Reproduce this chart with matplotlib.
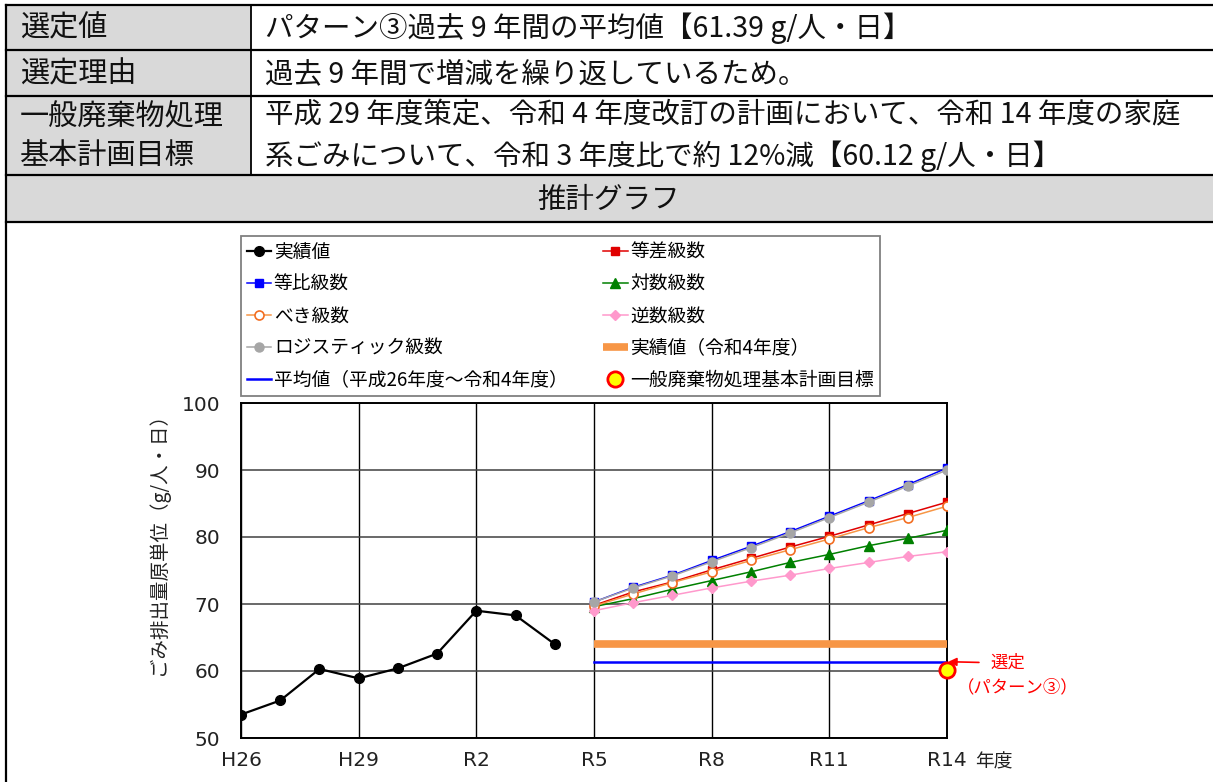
#!/usr/bin/env python3
"""Household waste per-capita estimate sheet: table header and projection chart."""

import matplotlib
matplotlib.use("Agg")
import matplotlib.pyplot as plt
from matplotlib.patches import Rectangle

plt.rcParams["font.family"] = ["Noto Sans CJK JP", "DejaVu Sans"]

# ---- data -------------------------------------------------------------
year_labels = ["H26", "H29", "R2", "R5", "R8", "R11", "R14"]
x_actual = list(range(0, 9))          # H26 .. R4
x_proj = list(range(9, 19))           # R5 .. R14

actual = [53.5, 55.6, 60.3, 58.9, 60.4, 62.6, 69.0, 68.3, 64.0]
arith = [69.8, 71.8, 73.3, 75.1, 76.8, 78.5, 80.1, 81.8, 83.5, 85.2]
geom = [70.3, 72.5, 74.3, 76.5, 78.6, 80.8, 83.1, 85.4, 87.8, 90.3]
logar = [69.6, 70.8, 72.2, 73.5, 74.8, 76.2, 77.4, 78.7, 79.8, 81.0]
power = [69.7, 71.5, 73.2, 74.8, 76.5, 78.1, 79.7, 81.4, 82.9, 84.6]
recip = [69.0, 70.2, 71.3, 72.4, 73.4, 74.3, 75.3, 76.2, 77.1, 77.8]
logistic = [70.3, 72.4, 74.2, 76.3, 78.4, 80.6, 82.9, 85.2, 87.6, 90.0]
latest_value = 64.0     # R4 actual
average_value = 61.39   # H26-R4 average
target_value = 60.12    # plan target at R14

table_rows = [
    ("選定値", "パターン③過去 9 年間の平均値【61.39 g/人・日】"),
    ("選定理由", "過去 9 年間で増減を繰り返しているため。"),
    ("一般廃棄物処理\n基本計画目標",
     "平成 29 年度策定、令和 4 年度改訂の計画において、令和 14 年度の家庭\n"
     "系ごみについて、令和 3 年度比で約 12%減【60.12 g/人・日】"),
]

W, H = 1213, 782
fig = plt.figure(figsize=(W / 100, H / 100), dpi=100)

# ---- table frame (pixel coordinates on an overlay axes) ---------------
bg = fig.add_axes([0, 0, 1, 1], zorder=0)
bg.set_xlim(0, W)
bg.set_ylim(H, 0)
bg.axis("off")

row_edges = [4.5, 50, 96, 175, 222]
col_split = 251
left_edge = 6
GRAY = "#d9d9d9"
for i, (label, value) in enumerate(table_rows):
    y0, y1 = row_edges[i], row_edges[i + 1]
    bg.add_patch(Rectangle((left_edge, y0), col_split - left_edge, y1 - y0,
                           facecolor=GRAY, edgecolor="none"))
    yc = (y0 + y1) / 2
    bg.text(20, yc + 1, label, fontsize=21, va="center", ha="left",
            linespacing=1.38, color="#111111")
    bg.text(265, yc + 1, value, fontsize=20.5, va="center", ha="left",
            linespacing=1.4, color="#111111")
    bg.plot([col_split, col_split], [y0, y1], color="black", lw=1.3)

bg.add_patch(Rectangle((left_edge, row_edges[3]), W - left_edge, row_edges[4] - row_edges[3],
                       facecolor=GRAY, edgecolor="none"))
bg.text(608, (row_edges[3] + row_edges[4]) / 2 + 1, "推計グラフ",
        fontsize=20.5, ha="center", va="center", color="#111111")
for y in row_edges:
    bg.plot([left_edge, W], [y, y], color="black", lw=1.6)
bg.plot([left_edge, left_edge], [row_edges[0], H], color="black", lw=1.6)

# ---- chart ------------------------------------------------------------
px_l, px_r, px_t, px_b = 241, 947, 403, 738
ax = fig.add_axes([px_l / W, 1 - px_b / H, (px_r - px_l) / W, (px_b - px_t) / H], zorder=2)

ax.plot(x_actual, actual, color="black", lw=1.6, marker="o", ms=7, label="実績値", zorder=5)
ax.plot(x_proj, arith, color="#e00000", lw=1.1, marker="s", ms=6, label="等差級数", zorder=4)
ax.plot(x_proj, geom, color="#0000ff", lw=1.1, marker="s", ms=6, label="等比級数", zorder=4)
ax.plot(x_proj, logar, color="#008000", lw=1.1, marker="^", ms=6.5, label="対数級数", zorder=4)
ax.plot(x_proj, power, color="#f79646", lw=1.1, marker="o", ms=6.5, mfc="white",
        mec="#f26d21", mew=1.2, label="べき級数", zorder=4)
ax.plot(x_proj, recip, color="#ff99cc", lw=1.1, marker="D", ms=5, label="逆数級数", zorder=4)
ax.plot(x_proj, logistic, color="#a6a6a6", lw=1.1, marker="o", ms=6.5, label="ロジスティック級数", zorder=4)
ax.plot([x_proj[0], x_proj[-1]], [latest_value] * 2, color="#f79646", lw=5.5,
        solid_capstyle="butt", label="実績値（令和4年度）", zorder=3)
ax.plot([x_proj[0], x_proj[-1]], [average_value] * 2, color="#0000ff", lw=1.8,
        label="平均値（平成26年度～令和4年度）", zorder=3)
ax.plot([x_proj[-1]], [target_value], ls="none", marker="o", ms=11, mfc="#ffff00",
        mec="#ff0000", mew=2, label="一般廃棄物処理基本計画目標", zorder=6, clip_on=False)

ax.set_xlim(0, 18)
ax.set_ylim(50, 100)
ax.set_xticks(range(0, 19, 3))
ax.set_xticklabels(year_labels)
ax.set_yticks(range(50, 101, 10))
ax.tick_params(axis="both", length=0, labelsize=14.5, colors="#222222")
ax.tick_params(axis="y", pad=15)
ax.tick_params(axis="x", pad=9)
for lab in ax.get_xticklabels() + ax.get_yticklabels():
    lab.set_family("DejaVu Sans")
ax.grid(axis="x", color="black", lw=1.0)
ax.grid(axis="y", color="#404040", lw=1.1)
ax.set_axisbelow(True)
for sp in ax.spines.values():
    sp.set_color("black")
    sp.set_linewidth(1.4)

ax.annotate("選定", xy=(x_proj[-1], average_value), xytext=(31, -1),
            textcoords="offset points", ha="left", va="center", fontsize=12.5,
            color="#ff0000",
            arrowprops=dict(arrowstyle="-|>", color="#ff0000", lw=1.2,
                            shrinkA=6, shrinkB=1, mutation_scale=12),
            annotation_clip=False)
ax.annotate("（パターン③）", xy=(x_proj[-1], average_value), xytext=(51, -18.5),
            textcoords="offset points", ha="center", va="center", fontsize=12.5,
            color="#ff0000", annotation_clip=False)

bg.text(975, 762, "年度", fontsize=13.5, ha="left", va="center", color="#222222")
bg.text(158, 539, "ごみ排出量原単位（g/人・日）", fontsize=14, rotation=90,
        ha="center", va="center", color="#222222")

# legend: rows read left-to-right, matplotlib fills columns first
handles, labels = ax.get_legend_handles_labels()
order = [0, 2, 4, 6, 8, 1, 3, 5, 7, 9]
leg = fig.legend([handles[i] for i in order], [labels[i] for i in order],
                 loc="upper left", ncol=2,
                 bbox_to_anchor=(px_l / W, 1 - 236 / H),
                 fontsize=13.5, numpoints=1, handlelength=1.3, handletextpad=0.15,
                 labelspacing=0.58, columnspacing=1.9, borderpad=0.3,
                 borderaxespad=0, fancybox=False, framealpha=1, edgecolor="#808080")
leg.get_frame().set_linewidth(1.3)
leg.set_zorder(3)

fig.savefig("out.png", dpi=100)
